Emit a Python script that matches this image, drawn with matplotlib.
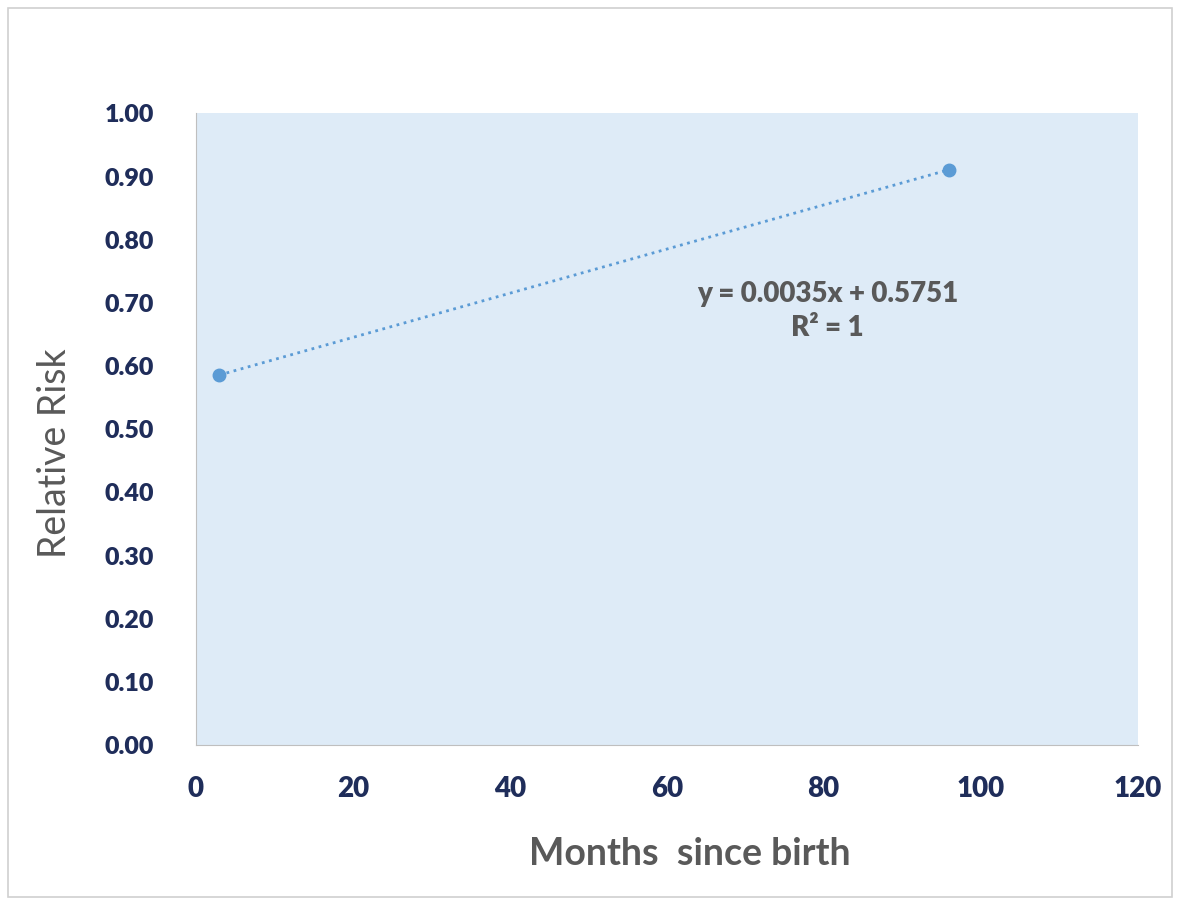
import matplotlib.pyplot as plt
from matplotlib.patches import Rectangle

# data
months = [3, 96]
relative_risk = [0.586, 0.911]
x_ticks = [0, 20, 40, 60, 80, 100, 120]
y_ticks = [0.0, 0.1, 0.2, 0.3, 0.4, 0.5, 0.6, 0.7, 0.8, 0.9, 1.0]

NAVY = "#1F2D5A"
GRAY = "#595959"
BLUE = "#5B9BD5"

plt.rcParams["font.family"] = ["Lato", "DejaVu Sans"]

fig = plt.figure(figsize=(11.8, 9), dpi=100)
fig.patches.append(Rectangle((0.007, 0.003), 0.986, 0.988, transform=fig.transFigure,
                             fill=False, edgecolor="#D0D0D0", linewidth=1.2))

ax = fig.add_axes([0.166, 0.172, 0.798, 0.702])
ax.set_facecolor("#DEEBF7")

# trendline + points
ax.plot(months, relative_risk, linestyle=":", color=BLUE, linewidth=2, zorder=2)
ax.plot(months, relative_risk, "o", color=BLUE, markersize=9, zorder=3)

ax.set_xlim(0, 120)
ax.set_ylim(0, 1.0)
ax.set_xticks(x_ticks)
ax.set_yticks(y_ticks)
ax.set_yticklabels([f"{v:.2f}" for v in y_ticks])
ax.tick_params(length=0)
ax.tick_params(axis="y", pad=30, labelsize=18, labelcolor=NAVY)
ax.tick_params(axis="x", pad=22, labelsize=20, labelcolor=NAVY)
for lbl in ax.get_xticklabels() + ax.get_yticklabels():
    lbl.set_fontweight("heavy")

for side in ["top", "right"]:
    ax.spines[side].set_visible(False)
for side in ["left", "bottom"]:
    ax.spines[side].set_color("#BFBFBF")

ax.set_ylabel("Relative Risk", fontsize=27, color=GRAY)
ax.yaxis.set_label_coords(-0.131, 0.462)
ax.set_xlabel("Months  since birth", fontsize=27, color=GRAY, fontweight="bold")
ax.xaxis.set_label_coords(0.525, -0.145)

ax.text(80.5, 0.687, "y = 0.0035x + 0.5751\nR\u00b2 = 1", ha="center", va="center",
        fontsize=20, color=GRAY, fontweight="heavy", linespacing=1.4)

fig.savefig("out.png", dpi=100, facecolor="white")
